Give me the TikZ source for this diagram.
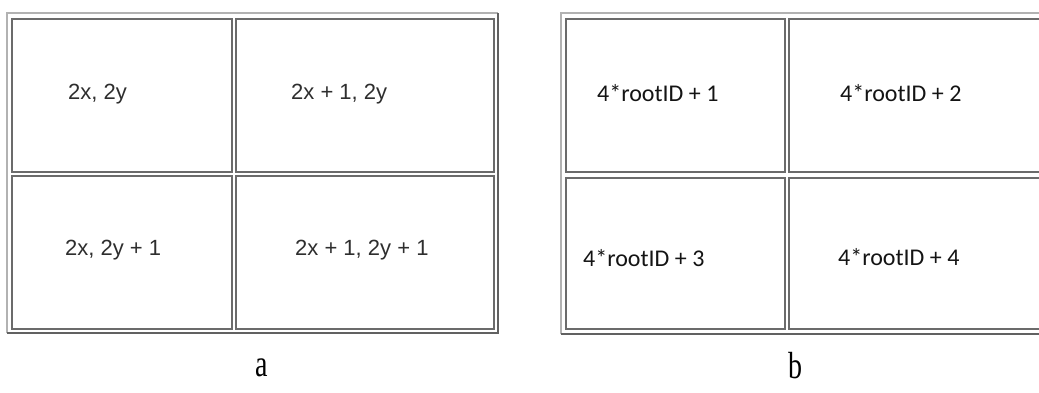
\documentclass[tikz,border=0pt]{standalone}
\usepackage{fontspec}
\setmainfont{Liberation Serif}
\newfontfamily\arialf{Liberation Sans}
\newfontfamily\calib{Carlito}
\begin{document}
\begin{tikzpicture}[x=1pt,y=-1pt,
  cell/.style={draw=black!58, line width=1.6pt, rectangle, inner sep=0pt, anchor=north west},
  frameTL/.style={draw=black!30, line width=2pt},
  frameBR/.style={draw=black!62, line width=2.4pt},
  txa/.style={font=\arialf\fontsize{22}{26}\selectfont, text=black!82, inner sep=0pt, anchor=west},
  txb/.style={font=\calib\fontsize{24}{28}\selectfont, text=black!92, inner sep=0pt, anchor=west},
  lbl/.style={font=\fontsize{28}{32}\selectfont, inner sep=0pt}]
\useasboundingbox (0,0) rectangle (1039,392);
\fill[white] (0,0) rectangle (1039,392);
\clip (0,0) rectangle (1039,392);
% table a frame
\coordinate (aTL) at (7,13);
\coordinate (aTR) at (498,13);
\coordinate (aBL) at (7,333);
\coordinate (aBR) at (498,333);
\draw[frameTL] (aBL) -- (aTL) -- (aTR);
\draw[frameBR] (aTR) -- (aBR) -- (aBL);
% table a cells
\node[cell, minimum width=220pt, minimum height=153pt] (a11) at (11,18) {};
\node[cell, minimum width=258pt, minimum height=153pt] (a12) at (235,18) {};
\node[cell, minimum width=220pt, minimum height=153pt] (a21) at (11,175) {};
\node[cell, minimum width=258pt, minimum height=153pt] (a22) at (235,175) {};
\node[txa] (ta11) at (68,94) {2x, 2y};
\node[txa] (ta12) at (291,94) {2x + 1, 2y};
\node[txa] (ta21) at (65,250) {2x, 2y + 1};
\node[txa] (ta22) at (295,250) {2x + 1, 2y + 1};
% table b frame
\coordinate (bTL) at (561,13);
\coordinate (bTR) at (1051,13);
\coordinate (bBL) at (561,334);
\coordinate (bBR) at (1051,334);
\draw[frameTL] (bBL) -- (bTL) -- (bTR);
\draw[frameBR] (bTR) -- (bBR) -- (bBL);
% table b cells
\node[cell, minimum width=219pt, minimum height=153pt] (b11) at (565,18) {};
\node[cell, minimum width=258pt, minimum height=153pt] (b12) at (788,18) {};
\node[cell, minimum width=219pt, minimum height=151pt] (b21) at (565,177) {};
\node[cell, minimum width=258pt, minimum height=151pt] (b22) at (788,177) {};
\node[txb] (tb11) at (597,93) {4*rootID + 1};
\node[txb] (tb12) at (840,93) {4*rootID + 2};
\node[txb] (tb21) at (583,258) {4*rootID + 3};
\node[txb] (tb22) at (838,257) {4*rootID + 4};
% labels
\node[lbl] (la) at (262,368) {\scalebox{1}[1.35]{a}};
\node[lbl] (lb) at (795,366) {\scalebox{1}[1.35]{b}};
\end{tikzpicture}
\end{document}
